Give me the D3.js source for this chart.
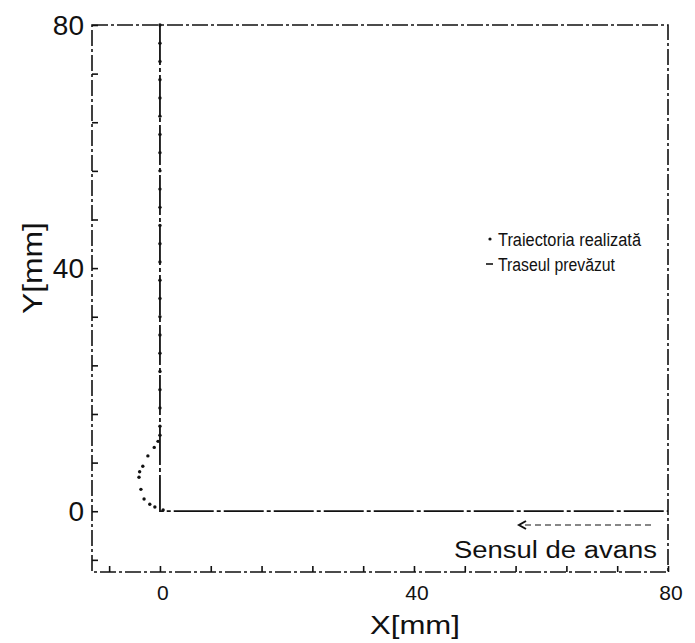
<!DOCTYPE html>
<html>
<head>
<meta charset="utf-8">
<script src="https://cdn.jsdelivr.net/npm/d3@7"></script>
<style>
  body { margin: 0; background: #fff; }
  svg text { font-family: "Liberation Sans", Arial, sans-serif; fill: #111; }
</style>
</head>
<body>
<div id="chart"></div>
<script>
// planned path: down the y axis, then along y = 0
const plannedX = [0, 0, 80];
const plannedY = [80, 0, 0];

const realX = [0.5, -0.8, -1.6, -2.5, -3.0, -3.3, -3.2, -2.7, -1.9, -0.9, -0.3, 0];
const realY = [0.2, 0.7, 1.15, 2.0, 3.6, 5.6, 6.5, 7.4, 9.1, 10.5, 11.5, 12.5];
// upper part of the trajectory, along x = 0
const realUpY = [14, 17, 20, 23, 26, 29, 32, 35, 38, 41, 44, 47, 50, 53, 56, 59, 62, 65, 68, 71, 74, 77, 80];

const xTicksMajor = [0, 40, 80];
const yTicksMajor = [0, 40, 80];
const xTicksMinor = [-8, 8, 16, 24, 32, 48, 56, 64, 72];
const yTicksMinor = [-8, 8, 16, 24, 32, 48, 56, 64, 72];

const legendLabels = ["Traiectoria realizată", "Traseul prevăzut"];

const width = 695, height = 643;
const margin = { left: 92, right: 27, top: 25, bottom: 71 };

const x = d3.scaleLinear().domain([-10.7, 80]).range([margin.left, width - margin.right]);
const y = d3.scaleLinear().domain([-10, 80]).range([height - margin.bottom, margin.top]);

const svg = d3.select("#chart").append("svg")
  .attr("width", width)
  .attr("height", height);

// frame, drawn dashed like the scanned original
svg.append("rect")
  .attr("x", x(-10.7)).attr("y", y(80))
  .attr("width", x(80) - x(-10.7))
  .attr("height", y(-10) - y(80))
  .attr("fill", "none")
  .attr("stroke", "#111")
  .attr("stroke-width", 1.6)
  .attr("stroke-dasharray", "16,3,3,3");

// ticks (pointing inward)
const xAxis = d3.axisBottom(x).tickValues(xTicksMajor.concat(xTicksMinor))
  .tickSize(-6).tickFormat("");
svg.append("g").attr("transform", `translate(0,${y(-10)})`).call(xAxis)
  .call(g => g.select(".domain").remove())
  .call(g => g.selectAll("line").attr("stroke", "#111").attr("stroke-width", 1.6));

const yAxis = d3.axisLeft(y).tickValues(yTicksMajor.concat(yTicksMinor))
  .tickSize(-6).tickFormat("");
svg.append("g").attr("transform", `translate(${x(-10.7)},0)`).call(yAxis)
  .call(g => g.select(".domain").remove())
  .call(g => g.selectAll("line").attr("stroke", "#111").attr("stroke-width", 1.6));

// tick labels
svg.selectAll(".ylab").data(yTicksMajor).enter().append("text")
  .attr("class", "ylab")
  .attr("x", x(-10.7) - 8)
  .attr("y", d => y(d) + 10)
  .attr("text-anchor", "end")
  .attr("font-size", 28)
  .text(d => d);

svg.selectAll(".xlab").data(xTicksMajor).enter().append("text")
  .attr("class", "xlab")
  .attr("x", d => x(d) + 3)
  .attr("y", 600)
  .attr("text-anchor", "middle")
  .attr("font-size", 21)
  .attr("fill", d => d === 80 ? "#777" : "#111")
  .text(d => d);

// axis titles
svg.append("text")
  .attr("x", x(40) + 1)
  .attr("y", 634)
  .attr("text-anchor", "middle")
  .attr("font-size", 26)
  .attr("textLength", 90)
  .attr("lengthAdjust", "spacingAndGlyphs")
  .text("X[mm]");

svg.append("text")
  .attr("transform", `translate(42,${y(40)}) rotate(-90)`)
  .attr("text-anchor", "middle")
  .attr("font-size", 27)
  .attr("textLength", 92)
  .attr("lengthAdjust", "spacingAndGlyphs")
  .text("Y[mm]");

// planned path
const line = d3.line().x(d => x(d[0])).y(d => y(d[1]));
svg.append("path")
  .datum(plannedX.map((d, i) => [d, plannedY[i]]))
  .attr("d", line)
  .attr("fill", "none")
  .attr("stroke", "#111")
  .attr("stroke-width", 1.8)
  .attr("stroke-dasharray", "40,3,4,3");

// realised trajectory as dots
const dots = realX.map((d, i) => [d, realY[i]]).concat(realUpY.map(v => [0, v]));
svg.selectAll(".dot").data(dots).enter().append("circle")
  .attr("class", "dot")
  .attr("cx", d => x(d[0]))
  .attr("cy", d => y(d[1]))
  .attr("r", 1.7)
  .attr("fill", "#111");

// legend
const lg = svg.append("g").attr("transform", "translate(490,0)");
lg.append("circle").attr("cx", 0).attr("cy", 239).attr("r", 1.6).attr("fill", "#111");
lg.append("line").attr("x1", -4).attr("x2", 3).attr("y1", 264).attr("y2", 264)
  .attr("stroke", "#111").attr("stroke-width", 1.6);
lg.selectAll("text").data(legendLabels).enter().append("text")
  .attr("x", 8)
  .attr("y", (d, i) => 246 + i * 25)
  .attr("font-size", 18)
  .attr("textLength", (d, i) => i === 0 ? 143 : 117)
  .attr("lengthAdjust", "spacingAndGlyphs")
  .text(d => d);

// direction of travel
svg.append("line")
  .attr("x1", 525).attr("x2", 652).attr("y1", 525).attr("y2", 525)
  .attr("stroke", "#111").attr("stroke-width", 1.2)
  .attr("stroke-dasharray", "6,4");
svg.append("path")
  .attr("d", "M526,521 L519,525 L526,529")
  .attr("fill", "none").attr("stroke", "#111").attr("stroke-width", 2);
svg.append("text")
  .attr("x", 657)
  .attr("y", 558)
  .attr("text-anchor", "end")
  .attr("font-size", 23)
  .attr("textLength", 203)
  .attr("lengthAdjust", "spacingAndGlyphs")
  .text("Sensul de avans");
</script>
</body>
</html>
